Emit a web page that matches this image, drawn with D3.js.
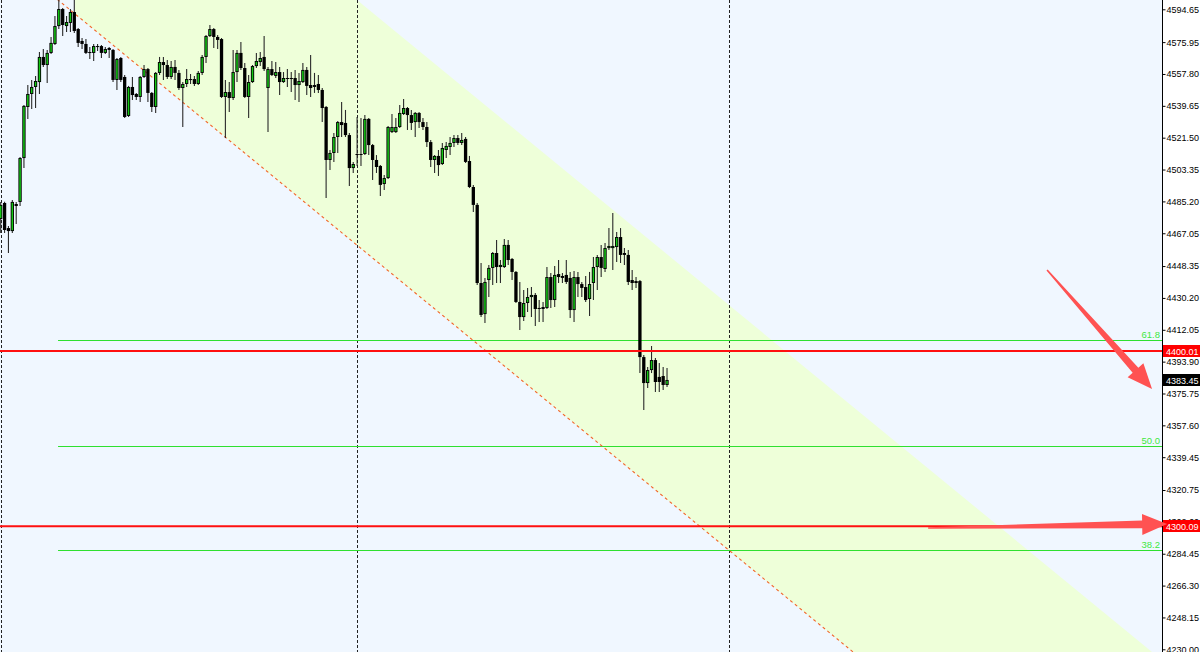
<!DOCTYPE html>
<html>
<head>
<meta charset="utf-8">
<script src="https://cdn.jsdelivr.net/npm/d3@7"></script>
<style>
  html, body { margin: 0; padding: 0; background: #ffffff; }
  svg { display: block; }
</style>
</head>
<body>
<div id="chart"></div>
<script>
// ---------------- DATA ----------------
const openP = [4475.2,4484.3,4470.0,4468.3,4483.7,4484.9,4509.9,4539.0,4546.4,4550.4,4553.2,4567.5,4562.9,4569.8,4574.9,4585.1,4594.8,4585.1,4586.9,4593.1,
4583.4,4576.6,4574.9,4570.3,4569.8,4573.7,4573.7,4569.8,4572.6,4571.5,4554.4,4566.9,4556.1,4533.9,4550.4,4546.4,4544.7,4556.1,4560.6,4547.0,
4539.0,4558.4,4564.6,4562.9,4556.1,4561.8,4558.4,4549.8,4552.1,4554.9,4554.9,4552.1,4558.4,4567.5,4579.4,4583.4,4578.9,4577.7,4544.7,4547.5,
4544.1,4558.9,4569.8,4561.2,4544.7,4553.2,4562.3,4564.6,4567.5,4549.8,4560.6,4556.7,4558.9,4553.2,4555.5,4555.2,4555.5,4551.5,4553.2,4560.1,
4551.5,4550.4,4552.1,4548.7,4539.0,4508.8,4512.8,4521.9,4530.4,4529.9,4523.0,4504.2,4512.2,4511.9,4512.2,4532.2,4517.3,4508.8,4505.4,4495.1,
4498.5,4524.7,4524.7,4527.6,4535.0,4538.4,4534.4,4530.4,4535.6,4530.4,4527.6,4519.0,4508.8,4511.1,4506.5,4514.5,4516.2,4518.5,4521.3,4518.5,
4520.8,4508.2,4493.4,4483.2,4438.7,4421.0,4440.4,4447.3,4455.8,4447.8,4447.8,4460.4,4452.4,4445.0,4427.9,4419.3,4427.3,4430.7,4431.9,4424.5,
4423.9,4424.5,4442.1,4429.0,4443.8,4441.6,4443.3,4441.6,4423.3,4442.1,4438.1,4436.4,4429.6,4438.7,4447.8,4453.5,4446.7,4458.6,4458.6,4459.2,
4464.9,4455.8,4454.7,4440.4,4438.7,4439.8,4396.5,4381.7,4389.1,4394.8,4385.2,4385.7,4380.6];
const highP = [4484.9,4485.0,4471.2,4486.0,4484.9,4510.5,4540.1,4551.5,4554.4,4556.7,4570.3,4572.0,4571.5,4578.9,4590.8,4599.9,4595.4,4590.8,4594.8,4599.9,
4584.0,4578.3,4577.7,4573.2,4574.9,4574.9,4574.3,4573.2,4573.2,4572.0,4566.9,4567.5,4557.2,4551.0,4556.1,4547.0,4556.7,4562.9,4561.2,4547.5,
4558.9,4567.5,4567.5,4565.8,4565.2,4565.8,4560.1,4553.2,4560.6,4557.8,4556.7,4559.5,4568.6,4580.0,4585.7,4584.0,4580.0,4578.3,4554.4,4553.2,
4571.5,4571.5,4576.0,4564.1,4557.2,4562.9,4569.8,4570.3,4579.4,4561.8,4565.2,4564.6,4561.8,4558.9,4560.6,4558.9,4560.1,4558.4,4564.1,4561.8,
4568.6,4558.4,4557.2,4549.8,4539.6,4514.5,4524.2,4531.0,4541.8,4537.3,4524.2,4507.7,4533.3,4532.7,4534.4,4532.7,4517.9,4511.6,4505.9,4500.2,
4528.2,4535.0,4532.7,4540.1,4543.5,4539.0,4537.3,4536.1,4536.1,4532.7,4530.4,4520.2,4511.6,4514.5,4518.5,4519.0,4521.9,4523.0,4523.0,4524.2,
4521.9,4511.1,4494.6,4484.3,4450.1,4441.6,4449.0,4456.4,4463.2,4451.8,4463.8,4463.2,4453.0,4445.5,4439.3,4434.7,4435.9,4436.4,4433.0,4429.0,
4427.9,4447.8,4444.4,4448.4,4451.8,4444.4,4451.8,4445.0,4445.5,4445.0,4439.3,4442.7,4445.0,4453.5,4454.7,4460.4,4461.5,4470.0,4478.6,4467.8,
4470.0,4458.6,4457.5,4446.1,4442.1,4440.4,4397.7,4390.8,4402.8,4396.0,4393.1,4390.8,4390.3];
const lowP = [4467.2,4467.2,4455.8,4467.2,4472.3,4482.6,4504.2,4532.2,4537.8,4538.4,4546.4,4561.8,4552.7,4569.2,4574.3,4583.4,4579.4,4581.7,4581.7,4581.2,
4573.2,4572.0,4569.2,4566.3,4565.2,4570.9,4566.9,4569.2,4566.9,4553.2,4548.7,4553.2,4532.7,4533.3,4543.0,4543.0,4541.8,4555.5,4541.8,4536.1,
4535.6,4557.2,4554.4,4554.9,4554.9,4554.4,4548.7,4527.6,4550.4,4552.1,4551.0,4551.5,4557.2,4564.1,4578.9,4572.6,4572.0,4544.1,4521.3,4536.1,
4543.0,4553.2,4560.1,4544.1,4532.7,4552.7,4561.2,4562.3,4559.5,4524.7,4556.7,4555.5,4545.8,4552.7,4550.4,4547.5,4543.0,4541.8,4552.7,4545.8,
4544.7,4547.0,4547.0,4530.4,4487.2,4503.1,4507.7,4512.8,4521.9,4521.9,4494.0,4501.4,4505.4,4505.4,4511.6,4511.6,4497.4,4501.4,4488.3,4491.7,
4498.0,4524.2,4524.2,4527.0,4534.4,4525.9,4525.9,4521.9,4527.0,4525.9,4516.2,4504.8,4501.4,4499.7,4505.9,4509.9,4511.6,4516.2,4517.3,4517.3,
4507.1,4492.8,4479.2,4437.6,4419.3,4415.9,4430.7,4437.6,4438.7,4438.7,4447.3,4449.0,4440.4,4427.3,4411.9,4417.1,4422.2,4419.3,4414.2,4416.5,
4416.5,4423.9,4424.5,4425.0,4438.7,4438.7,4438.1,4418.8,4416.5,4430.7,4430.7,4427.9,4419.9,4429.0,4434.7,4442.1,4445.0,4457.5,4446.1,4450.7,
4450.1,4449.0,4437.6,4434.7,4435.9,4387.4,4366.3,4378.9,4387.4,4376.6,4376.6,4377.7,4379.5];
const closeP = [4483.2,4468.9,4468.3,4484.9,4482.6,4509.9,4539.6,4546.4,4550.4,4553.8,4567.5,4562.9,4569.8,4575.5,4585.1,4594.8,4585.7,4587.4,4593.1,4582.3,
4575.5,4574.9,4569.8,4569.8,4573.7,4573.2,4569.8,4572.0,4571.5,4554.4,4566.3,4554.4,4533.3,4550.4,4545.8,4544.7,4556.1,4560.6,4547.0,4539.0,
4558.4,4564.6,4562.9,4556.1,4561.8,4558.4,4549.8,4552.1,4554.9,4554.7,4552.1,4558.4,4567.5,4579.4,4583.4,4578.9,4577.2,4544.7,4547.5,4544.1,
4558.9,4569.8,4561.2,4544.7,4553.2,4562.3,4565.2,4566.9,4560.6,4560.6,4557.2,4558.9,4553.2,4555.5,4555.2,4555.5,4551.5,4553.8,4560.1,4551.0,
4549.8,4551.5,4548.7,4538.4,4508.8,4512.8,4521.9,4530.4,4528.7,4523.0,4504.2,4506.5,4511.9,4512.2,4532.2,4517.3,4508.8,4504.8,4494.6,4498.5,
4527.6,4527.6,4527.6,4535.6,4538.4,4534.4,4529.9,4535.6,4530.4,4527.6,4519.0,4508.8,4511.1,4505.9,4515.6,4516.8,4518.5,4521.3,4518.5,4520.2,
4507.7,4493.4,4483.2,4438.7,4420.5,4439.3,4447.3,4455.8,4447.8,4449.0,4460.4,4451.8,4445.0,4427.9,4419.3,4427.3,4430.7,4431.9,4423.9,4423.9,
4425.0,4442.1,4429.0,4443.3,4442.1,4442.7,4439.3,4423.3,4442.1,4438.1,4435.9,4429.0,4438.1,4447.8,4453.5,4447.3,4458.6,4459.8,4459.8,4464.9,
4454.7,4454.7,4439.3,4438.7,4439.8,4396.5,4381.7,4389.1,4394.8,4382.3,4382.3,4380.6,4383.45];

const tickLabels = ["4594.65","4575.95","4557.80","4539.65","4521.50","4503.35","4485.20","4467.05","4448.35","4430.20",
  "4412.05","4393.90","4375.75","4357.60","4339.45","4320.75","4302.60","4284.45","4266.30","4248.15","4230.00"];

const separatorBars = [0, 92, 188];
const fibLabels = ["61.8", "50.0", "38.2"];
const fibPrices = [4406.1, 4346.0, 4286.8];
const fibStartBar = 14.8;
const levelPrices = [4400.01, 4300.09];
const lastPrice = 4383.45;

// channel: lower (dashed) line through two anchors, parallel upper edge
const channelBars = [14.8, 220.0];
const channelPrices = [4599.95, 4228.5];
const channelWidth = 139.7;
const channelFillStart = 19.2;

// arrows
const arrowTailBars = [270.1, 239.4];
const arrowTailPrices = [4446.1, 4299.1];
const arrowTipBars = [297.2, 301.1];
const arrowTipPrices = [4378.3, 4301.4];

// ---------------- CHART ----------------
const W = 1200, H = 652, plotRight = 1162;
const FONT = "Liberation Sans, Arial, sans-serif";
const svg = d3.select("#chart").append("svg").attr("width", W).attr("height", H);

const x = d3.scaleLinear().domain([0, 300]).range([0.7, 0.7 + 300 * 3.874]);
const y = d3.scaleLinear().domain([4228.46, 4599.95]).range([H, 0]);

svg.append("defs").append("clipPath").attr("id", "plotClip")
  .append("rect").attr("x", 0).attr("y", 0).attr("width", plotRight).attr("height", H);

svg.append("rect").attr("x", 0).attr("y", 0).attr("width", W).attr("height", H).attr("fill", "#ffffff");
const plot = svg.append("g").attr("clip-path", "url(#plotClip)");
plot.append("rect").attr("x", 0).attr("y", 0).attr("width", plotRight).attr("height", H).attr("fill", "#f0f7ff");

// channel geometry
const slope = (channelPrices[1] - channelPrices[0]) / (channelBars[1] - channelBars[0]);
const lowerAt = i => channelPrices[0] + slope * (i - channelBars[0]);
const upperAt = i => lowerAt(i) + channelWidth;
const endBar = 320;
const poly = [
  [channelFillStart, lowerAt(channelFillStart)],
  [channelFillStart, upperAt(channelFillStart)],
  [endBar, upperAt(endBar)],
  [endBar, lowerAt(endBar)]
];
plot.append("path")
  .attr("d", d3.line().x(d => x(d[0])).y(d => y(d[1]))(poly) + "Z")
  .attr("fill", "#eeffd9");

// period separators
plot.selectAll("line.sep").data(separatorBars).join("line")
  .attr("class", "sep")
  .attr("x1", d => Math.round(x(d)) + 0.5).attr("x2", d => Math.round(x(d)) + 0.5)
  .attr("y1", 0).attr("y2", H)
  .attr("stroke", "#222").attr("stroke-width", 1).attr("stroke-dasharray", "3,2");

// fib levels
plot.selectAll("line.fib").data(fibPrices).join("line")
  .attr("class", "fib")
  .attr("x1", x(fibStartBar)).attr("x2", plotRight)
  .attr("y1", d => Math.round(y(d)) + 0.5).attr("y2", d => Math.round(y(d)) + 0.5)
  .attr("stroke", "#2fe02f").attr("stroke-width", 1);
plot.selectAll("text.fib").data(fibPrices).join("text")
  .attr("class", "fib")
  .attr("x", plotRight - 2).attr("y", d => Math.round(y(d)) - 2)
  .attr("text-anchor", "end")
  .attr("font-family", FONT).attr("font-size", 9.5)
  .attr("fill", "#3ee83e")
  .text((d, i) => fibLabels[i]);

// dashed channel line
plot.append("line")
  .attr("x1", x(channelBars[0] - 5)).attr("y1", y(lowerAt(channelBars[0] - 5)))
  .attr("x2", x(endBar)).attr("y2", y(lowerAt(endBar)))
  .attr("stroke", "#f2662a").attr("stroke-width", 1.1).attr("stroke-dasharray", "3,3");

// candles
const n = closeP.length;
const bars = d3.range(n).map(i => ({ i, o: openP[i], h: highP[i], l: lowP[i], c: closeP[i] }));
const cg = plot.append("g");
cg.selectAll("line.wick").data(bars).join("line")
  .attr("class", "wick")
  .attr("x1", d => x(d.i)).attr("x2", d => x(d.i))
  .attr("y1", d => y(d.h)).attr("y2", d => y(d.l))
  .attr("stroke", "#2a2a2a").attr("stroke-width", 1.1);
const bw = 3.3;
cg.selectAll("rect.body").data(bars).join("rect")
  .attr("class", "body")
  .attr("x", d => x(d.i) - bw / 2)
  .attr("y", d => y(Math.max(d.o, d.c)))
  .attr("width", bw)
  .attr("height", d => Math.max(1, Math.abs(y(d.o) - y(d.c))))
  .attr("fill", "#000");
cg.selectAll("rect.bull").data(bars.filter(d => d.c > d.o && Math.abs(y(d.o) - y(d.c)) > 2)).join("rect")
  .attr("class", "bull")
  .attr("x", d => x(d.i) - bw / 2 + 0.9)
  .attr("y", d => y(d.c) + 0.9)
  .attr("width", bw - 1.8)
  .attr("height", d => Math.abs(y(d.o) - y(d.c)) - 1.8)
  .attr("fill", "#14c814");

// horizontal red levels
plot.selectAll("line.lvl").data(levelPrices).join("line")
  .attr("class", "lvl")
  .attr("x1", 0).attr("x2", plotRight)
  .attr("y1", d => y(d)).attr("y2", d => y(d))
  .attr("stroke", "#ff1010").attr("stroke-width", 2);

// price axis
const axisG = svg.append("g").attr("transform", `translate(${plotRight + 0.5},0)`);
const axis = d3.axisRight(y)
  .tickValues(tickLabels.map(Number))
  .tickFormat((d, i) => tickLabels[i])
  .tickSize(3).tickPadding(1);
axisG.call(axis);
axisG.select(".domain").attr("stroke", "#000").attr("d", `M0,0V${H}`);
axisG.selectAll(".tick line").attr("stroke", "#000");
axisG.selectAll(".tick text")
  .attr("font-family", FONT).attr("font-size", 9)
  .attr("fill", "#000");

// price tags
const tags = levelPrices.map(p => ({ p, bg: "#ff0000" })).concat([{ p: lastPrice, bg: "#000000" }]);
const tg = svg.append("g");
tg.selectAll("rect").data(tags).join("rect")
  .attr("x", plotRight + 1).attr("y", d => Math.round(y(d.p)) - 6)
  .attr("width", W - plotRight - 1).attr("height", 12)
  .attr("fill", d => d.bg);
tg.selectAll("text").data(tags).join("text")
  .attr("x", plotRight + 4).attr("y", d => Math.round(y(d.p)) + 3.5)
  .attr("font-family", FONT).attr("font-size", 9)
  .attr("fill", "#fff")
  .text(d => d.p.toFixed(2));

// arrows
function arrowPath(t0, t1, headLen, headHalf, shaftHalfTail, shaftHalfHead) {
  const dx = t1[0] - t0[0], dy = t1[1] - t0[1];
  const len = Math.hypot(dx, dy);
  const ux = dx / len, uy = dy / len, nx = -uy, ny = ux;
  const bx = t1[0] - ux * headLen, by = t1[1] - uy * headLen;
  const pts = [
    [t0[0] + nx * shaftHalfTail, t0[1] + ny * shaftHalfTail],
    [bx + nx * shaftHalfHead, by + ny * shaftHalfHead],
    [bx + nx * headHalf, by + ny * headHalf],
    [t1[0], t1[1]],
    [bx - nx * headHalf, by - ny * headHalf],
    [bx - nx * shaftHalfHead, by - ny * shaftHalfHead],
    [t0[0] - nx * shaftHalfTail, t0[1] - ny * shaftHalfTail]
  ];
  return "M" + pts.map(p => p.join(",")).join("L") + "Z";
}
svg.selectAll("path.arrow").data(arrowTailBars).join("path")
  .attr("class", "arrow")
  .attr("d", (d, k) => arrowPath(
    [x(arrowTailBars[k]), y(arrowTailPrices[k])],
    [x(arrowTipBars[k]), y(arrowTipPrices[k])], 25, 10.5, 0.8, 3.8))
  .attr("fill", "#ff5252");
</script>
</body>
</html>
